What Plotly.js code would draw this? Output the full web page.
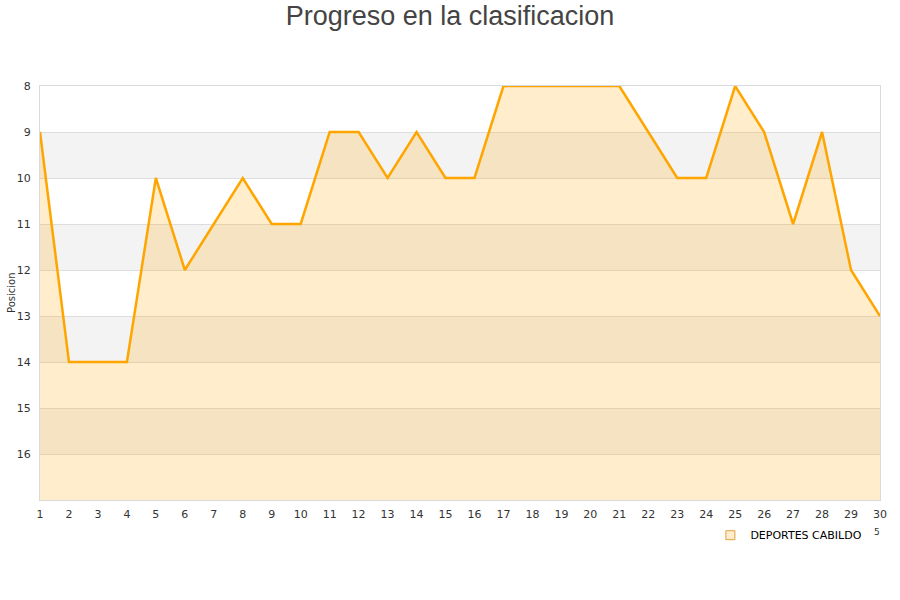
<!DOCTYPE html>
<html>
<head>
<meta charset="utf-8">
<script src="https://cdn.plot.ly/plotly-3.0.1.min.js"></script>
<style>html,body{margin:0;padding:0;background:#fff;}#chart{width:900px;height:600px;}</style>
</head>
<body>
<div id="chart"></div>
<script>
var jornadas = [1,2,3,4,5,6,7,8,9,10,11,12,13,14,15,16,17,18,19,20,21,22,23,24,25,26,27,28,29,30];
var posiciones = [9,14,14,14,10,12,11,10,11,11,9,9,10,9,10,10,8,8,8,8,8,9,10,10,8,9,11,9,12,13];
var equipo = "DEPORTES CABILDO";
var yTicks = [8,9,10,11,12,13,14,15,16];
var bandas = [[9,10],[11,12],[13,14],[15,16]];
var fondo = 17;

var baseline = jornadas.map(function(){ return fondo; });

var traces = [
  {x: jornadas, y: baseline, type: 'scatter', mode: 'lines', line: {width: 0, color: 'rgba(0,0,0,0)'},
   showlegend: false, hoverinfo: 'skip'},
  {x: jornadas, y: posiciones, type: 'scatter', mode: 'lines', name: equipo, showlegend: false,
   fill: 'tonexty', fillcolor: 'rgba(255,165,0,0.2)',
   line: {color: '#FFA500', width: 2.5}},
  {x: [null], y: [null], type: 'scatter', mode: 'markers', name: equipo, showlegend: true,
   marker: {symbol: 'square', size: 9, color: 'rgba(255,165,0,0.2)', line: {color: '#E0A040', width: 1}}}
];

var shapes = bandas.map(function(b){
  return {type: 'rect', xref: 'paper', yref: 'y', x0: 0, x1: 1, y0: b[0], y1: b[1],
          fillcolor: '#f3f3f3', line: {width: 0}, layer: 'below'};
});

var layout = {
  width: 900, height: 600,
  paper_bgcolor: '#ffffff', plot_bgcolor: '#ffffff',
  margin: {l: 40, r: 20, t: 86, b: 100},
  title: {text: 'Progreso en la clasificacion', font: {family: 'Liberation Sans, Arial, sans-serif', size: 27, color: '#444'},
          x: 0.5, xanchor: 'center', y: 0.99, yanchor: 'top'},
  xaxis: {range: [1, 30], tickmode: 'array', tickvals: jornadas, ticktext: jornadas.map(String),
          showgrid: false, zeroline: false, showline: true, linecolor: '#d9d9d9', linewidth: 1, mirror: true,
          ticks: '', ticklabelstandoff: 4,
          tickfont: {family: 'DejaVu Sans, sans-serif', size: 11, color: '#333'}},
  yaxis: {range: [fondo, 8], tickmode: 'array', tickvals: yTicks, ticktext: yTicks.map(String),
          showgrid: true, gridcolor: '#dddddd', gridwidth: 1, zeroline: false,
          showline: true, linecolor: '#d9d9d9', linewidth: 1, mirror: true, ticks: '',
          ticklabelstandoff: 6,
          tickfont: {family: 'DejaVu Sans, sans-serif', size: 11, color: '#333'}},
  shapes: shapes,
  showlegend: true,
  legend: {orientation: 'h', x: 0.985, xanchor: 'right', y: -0.05, yanchor: 'top',
           font: {family: 'DejaVu Sans, sans-serif', size: 11, color: '#000'}, bgcolor: 'rgba(0,0,0,0)'},
  annotations: [
    {text: 'Posicion', xref: 'paper', yref: 'paper', x: -0.0345, y: 0.5, xanchor: 'center', yanchor: 'middle',
     textangle: -90, showarrow: false, font: {family: 'DejaVu Sans, sans-serif', size: 10, color: '#333'}},
    {text: '5', xref: 'paper', yref: 'paper', x: 0.996, y: -0.078, xanchor: 'center', yanchor: 'middle',
     showarrow: false, font: {family: 'DejaVu Sans, sans-serif', size: 9, color: '#333'}}
  ]
};

Plotly.newPlot('chart', traces, layout, {displayModeBar: false, staticPlot: true});
</script>
</body>
</html>
